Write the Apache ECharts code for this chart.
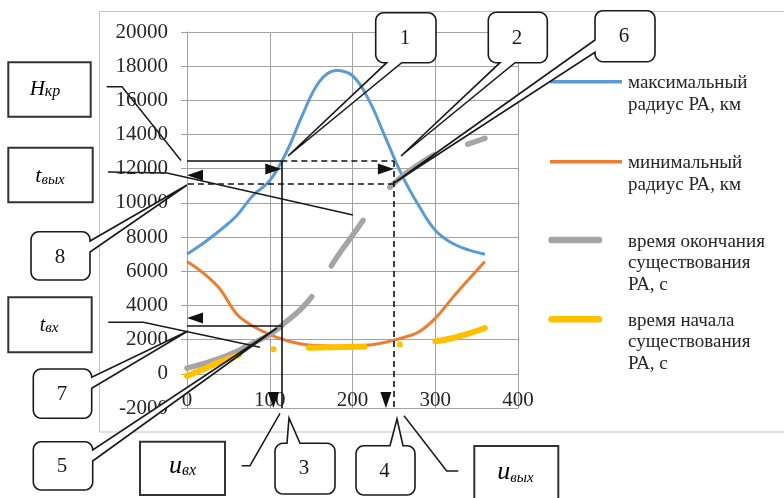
<!DOCTYPE html>
<html><head><meta charset="utf-8">
<script src="https://cdn.jsdelivr.net/npm/echarts@6/dist/echarts.min.js"></script>
<style>html,body{margin:0;padding:0;background:#fff}#c{width:784px;height:498px}</style>
</head><body><div id="c"></div>
<script>
// ---- data ----
const uDeg = [0,20,40,60,80,100,120,140,160,180,200,220,240,260,280,300,320,340,360];
const maxRadius = [7000,7650,8400,9250,10450,11300,12950,15200,17100,17750,17450,16000,13800,11600,9850,8400,7650,7250,7000];
const minRadius = [6570,5880,4950,3500,2780,2300,1950,1730,1650,1620,1630,1680,1850,2100,2450,3250,4400,5500,6570];
const endTime = [330,600,900,1300,1800,2300,3050,3900,5150,6750,8100,9450,10650,11550,12250,12850,13200,13450,13780];
const startTime = [-120,280,700,1050,1300,1420,1480,1510,1540,1560,1580,1600,1650,1730,1800,1900,2080,2350,2680];
const seriesNames = ['максимальный радиус РА, км','минимальный радиус РА, км','время окончания существования РА, с','время начала существования РА, с'];
const xTicks = [0,100,200,300,400];
const yTicks = [-2000,0,2000,4000,6000,8000,10000,12000,14000,16000,18000,20000];
// guide values: u_in, u_out ; H_kr, t_out, t_in
const guideU = [114, 250];
const guideLevels = [12450, 11150, 2800];

const FONT = "'Liberation Serif','Times New Roman',serif";
const colors = ['#5B9BD5','#ED7D31','#A5A5A5','#FFC000'];
const toPairs = arr => uDeg.map((u,i)=>[u,arr[i]]);

const [uIn,uOut] = guideU;
const [hKr,tOut,tIn] = guideLevels;
const yMin = yTicks[0];
const dashA = [6,4];

// ---- annotation helpers ----
function calloutPoly(x0,y0,x1,y1,r,side,a,b,tip){
  const pts=[];
  const arc=(cx,cy,s,e)=>{for(let i=0;i<=6;i++){const t=s+(e-s)*i/6;pts.push([cx+r*Math.cos(t),cy+r*Math.sin(t)]);}};
  arc(x0+r,y0+r,Math.PI,1.5*Math.PI);
  if(side==='top') pts.push([a,y0],tip,[b,y0]);
  arc(x1-r,y0+r,1.5*Math.PI,2*Math.PI);
  if(side==='right') pts.push([x1,a],tip,[x1,b]);
  arc(x1-r,y1-r,0,0.5*Math.PI);
  if(side==='bottom') pts.push([b,y1],tip,[a,y1]);
  arc(x0+r,y1-r,0.5*Math.PI,Math.PI);
  if(side==='left') pts.push([x0,b],tip,[x0,a]);
  return pts;
}
const callouts = [
  {n:'1', box:[375.7,12.7,436,62.7], side:'bottom', a:386.7, b:401.7, tip:[288,156], c:[405,38]},
  {n:'2', box:[488.3,12.3,547.3,62.7], side:'bottom', a:500, b:515, tip:[401,156], c:[517,38]},
  {n:'6', box:[595,10.7,655,61.7], side:'left', a:40, b:52.3, tip:[394,183], c:[624,36]},
  {n:'8', box:[31,231.7,90,280], side:'right', a:241, b:252, tip:[187,185], c:[60,257]},
  {n:'7', box:[33.3,369,91.7,418.3], side:'right', a:377.3, b:388.3, tip:[188,331], c:[62,394]},
  {n:'5', box:[33.3,441.7,92.7,490], side:'right', a:450, b:461, tip:[277,328], c:[62,466.5]},
  {n:'3', box:[275,443.3,335,494], side:'top', a:287, b:300, tip:[289,418], c:[304,468.5]},
  {n:'4', box:[356,445.7,415,495], side:'top', a:390, b:403, tip:[397,419], c:[384.5,471]}
];
const boxes = [
  {box:[8.3,62.3,90.7,116.7], m:'H', s:'кр', Fm:21, Fs:16, cx:45, base:95},
  {box:[8.3,147.7,92.7,202.3], m:'t', s:'вых', Fm:22, Fs:15, cx:50, base:181.7},
  {box:[8.3,297.3,91.7,352.3], m:'t', s:'вх', Fm:20, Fs:15, cx:49, base:330.5},
  {box:[140,441.7,225,495], m:'u', s:'вх', Fm:26, Fs:16, cx:182.5, base:472.7},
  {box:[474.3,446,558.3,505], m:'u', s:'вых', Fm:26, Fs:15, cx:515.5, base:479}
];
const leaders = [
  [[106.7,86.7],[122,86.7],[181,160.5]],
  [[108,172],[167,173],[353,215]],
  [[108.3,322.3],[143.3,322.3],[260,347.3]],
  [[241.7,465.7],[250,465.7],[280,413.3]],
  [[458.3,471],[446.7,471],[404,415.7]]
];

const graphic = [];
graphic.push({type:'rect', z:-10, shape:{x:99.5,y:11.5,width:720,height:420.5}, style:{fill:null, stroke:'#c4c4c4', lineWidth:1}});
callouts.forEach(co=>{
  const [x0,y0,x1,y1]=co.box;
  const pts = calloutPoly(x0,y0,x1,y1,8,co.side,co.a,co.b,co.tip);
  graphic.push({type:'polygon', z:1, shape:{points:pts}, style:{fill:'#fff', stroke:null}});
  graphic.push({type:'polygon', z:20, shape:{points:pts}, style:{fill:null, stroke:'#1a1a1a', lineWidth:1.6}});
  graphic.push({type:'text', z:30, x:co.c[0], y:co.c[1], style:{text:co.n, font:'21px '+FONT, fill:'#1a1a1a', align:'center', verticalAlign:'middle', textAlign:'center', textVerticalAlign:'middle'}});
});
boxes.forEach(bx=>{
  const [x0,y0,x1,y1]=bx.box;
  graphic.push({type:'rect', z:1, shape:{x:x0,y:y0,width:x1-x0,height:y1-y0}, style:{fill:'#fff', stroke:'#333', lineWidth:2}});
  const Hm = bx.Fm*1.1;
  const Hs = 2*(Hm/2 - 0.3*bx.Fm + 0.3*bx.Fs);
  graphic.push({type:'text', z:30, x:bx.cx, y:bx.base-0.3*bx.Fm, style:{
    text:'{m|'+bx.m+'}{s|'+bx.s+'}', align:'center', verticalAlign:'middle', textAlign:'center', textVerticalAlign:'middle',
    rich:{m:{fontSize:bx.Fm, fontStyle:'italic', fontFamily:FONT, lineHeight:Hm, verticalAlign:'bottom', color:'#1a1a1a'},
          s:{fontSize:bx.Fs, fontStyle:'italic', fontFamily:FONT, lineHeight:Hs, verticalAlign:'bottom', color:'#1a1a1a'}}}});
});
leaders.forEach(p=>graphic.push({type:'polyline', z:20, shape:{points:p}, style:{stroke:'#1a1a1a', lineWidth:1.5, fill:null}}));

// legend drawn manually
const legendRows = [
  {y:81.7, x0:550, x1:622, w:3.5, cap:'butt', text:'максимальный\nрадиус РА, км', ty:72.5},
  {y:161.7, x0:550, x1:622, w:3.5, cap:'butt', text:'минимальный\nрадиус РА, км', ty:152.5},
  {y:240, x0:551.5, x1:599, w:6.5, cap:'round', text:'время окончания\nсуществования\nРА, с', ty:230.8},
  {y:319.3, x0:551.5, x1:599, w:6.5, cap:'round', text:'время начала\nсуществования\nРА, с', ty:309.8}
];
legendRows.forEach((r,i)=>{
  graphic.push({type:'line', z:5, shape:{x1:r.x0,y1:r.y,x2:r.x1,y2:r.y}, style:{stroke:colors[i], lineWidth:r.w, lineCap:r.cap}});
  graphic.push({type:'text', z:5, x:628, y:r.ty, style:{text:r.text, font:'19px '+FONT, lineHeight:21.7, fill:'#262626', align:'left', verticalAlign:'top', textAlign:'left', textVerticalAlign:'top'}});
});

const axisGray = '#a3a3a3';
const option = {
  animation:false,
  backgroundColor:'#fff',
  grid:{left:187, top:32, width:331, height:376},
  xAxis:{type:'value', min:xTicks[0], max:xTicks[xTicks.length-1], interval:xTicks[1]-xTicks[0],
    axisLine:{show:true, onZero:false, lineStyle:{color:axisGray, width:1}},
    axisTick:{show:false},
    axisLabel:{margin:-18.5, fontSize:21, fontFamily:FONT, color:'#262626', formatter:v=>String(v)},
    splitLine:{show:true, lineStyle:{color:axisGray, width:1}}},
  yAxis:{type:'value', min:yMin, max:yTicks[yTicks.length-1], interval:yTicks[1]-yTicks[0],
    axisLine:{show:true, lineStyle:{color:axisGray, width:1}},
    axisTick:{show:true, length:6, lineStyle:{color:axisGray}},
    axisLabel:{margin:19, fontSize:21, fontFamily:FONT, color:'#262626', formatter:v=>String(v)},
    splitLine:{show:true, lineStyle:{color:axisGray, width:1}}},
  series:[
    {name:seriesNames[0], type:'line', data:toPairs(maxRadius), smooth:0.4, showSymbol:false, z:2,
      lineStyle:{color:colors[0], width:3}, itemStyle:{color:colors[0]},
      markLine:{silent:true, symbol:['none','triangle'], symbolSize:[11,16], symbolOffset:[0,8], label:{show:false},
        lineStyle:{color:'#111', width:1.6, type:'solid'}, emphasis:{disabled:true},
        data:[
          [{coord:[0,hKr]},{coord:[uIn,hKr]}],
          [{coord:[uIn,hKr], lineStyle:{type:dashA}},{coord:[uOut,hKr]}],
          [{coord:[uIn,hKr]},{coord:[uIn,yMin]}],
          [{coord:[uOut,hKr], lineStyle:{type:dashA}},{coord:[uOut,yMin]}],
          [{coord:[uOut,tOut], lineStyle:{type:dashA}},{coord:[0,tOut]}],
          [{coord:[uIn,tIn]},{coord:[0,tIn]}]
        ]}},
    {name:seriesNames[1], type:'line', data:toPairs(minRadius), smooth:0.4, showSymbol:false, z:2,
      lineStyle:{color:colors[1], width:3}, itemStyle:{color:colors[1]}},
    {name:seriesNames[2], type:'line', data:toPairs(endTime), smooth:0.4, showSymbol:false, z:2,
      lineStyle:{color:colors[2], width:5.5, cap:'round', type:[146.5,36.5,55.5,42.5,55.5,35,300]}, itemStyle:{color:colors[2]}},
    {name:seriesNames[3], type:'line', data:toPairs(startTime), smooth:0.4, showSymbol:false, z:2,
      lineStyle:{color:colors[3], width:6, cap:'round', type:[55.5,35.5,0.1,35.5]}, itemStyle:{color:colors[3]}}
  ],
  graphic:{elements:graphic}
};
const chart = echarts.init(document.getElementById('c'), null, {renderer:'canvas'});
chart.setOption(option);
</script></body></html>
